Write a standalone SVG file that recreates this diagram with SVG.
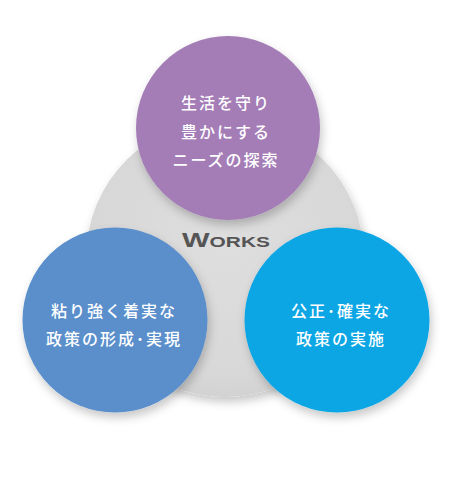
<svg xmlns="http://www.w3.org/2000/svg" width="464" height="483" viewBox="0 0 464 483">
  <style>
    .label { font-family: "Noto Sans CJK JP", "Noto Sans", sans-serif; font-size: 16px; fill: #ffffff; letter-spacing: 2px; text-anchor: middle; font-weight: 500; }
    .works { font-family: "Liberation Sans", "DejaVu Sans", sans-serif; font-weight: bold; fill: #555555; text-anchor: middle; }
  </style>
  <defs>
    <filter id="shadow" x="-20%" y="-20%" width="140%" height="150%">
      <feDropShadow dx="2" dy="5" stdDeviation="5" flood-color="#000000" flood-opacity="0.22"/>
    </filter>
    <radialGradient id="grayGrad" cx="50%" cy="45%" r="55%">
      <stop offset="0%" stop-color="#dedede"/>
      <stop offset="85%" stop-color="#d8d8d8"/>
      <stop offset="100%" stop-color="#d2d2d2"/>
    </radialGradient>
  </defs>
  <rect width="464" height="483" fill="#ffffff"/>

  <g id="works">
    <circle cx="225" cy="258" r="139" fill="url(#grayGrad)" filter="url(#shadow)"/>
    <text class="works" x="226" y="247" textLength="88" lengthAdjust="spacingAndGlyphs"><tspan font-size="21">W</tspan><tspan font-size="15">ORKS</tspan></text>
  </g>

  <g id="needs">
    <circle cx="228" cy="128" r="92" fill="#a47db7" filter="url(#shadow)"/>
    <text class="label" x="226" y="109">生活を守り</text>
    <text class="label" x="226" y="138">豊かにする</text>
    <text class="label" x="226" y="166">ニーズの探索</text>
  </g>

  <g id="policy-formation">
    <circle cx="115" cy="320" r="92.5" fill="#5a8fcc" filter="url(#shadow)"/>
    <text class="label" x="114" y="317">粘り強く着実な</text>
    <text class="label" x="114" y="345">政策の形成･実現</text>
  </g>

  <g id="policy-implementation">
    <circle cx="337" cy="320" r="92.5" fill="#0fa6e5" filter="url(#shadow)"/>
    <text class="label" x="341" y="317">公正･確実な</text>
    <text class="label" x="341" y="345">政策の実施</text>
  </g>

  <g id="connectors"/>
</svg>
